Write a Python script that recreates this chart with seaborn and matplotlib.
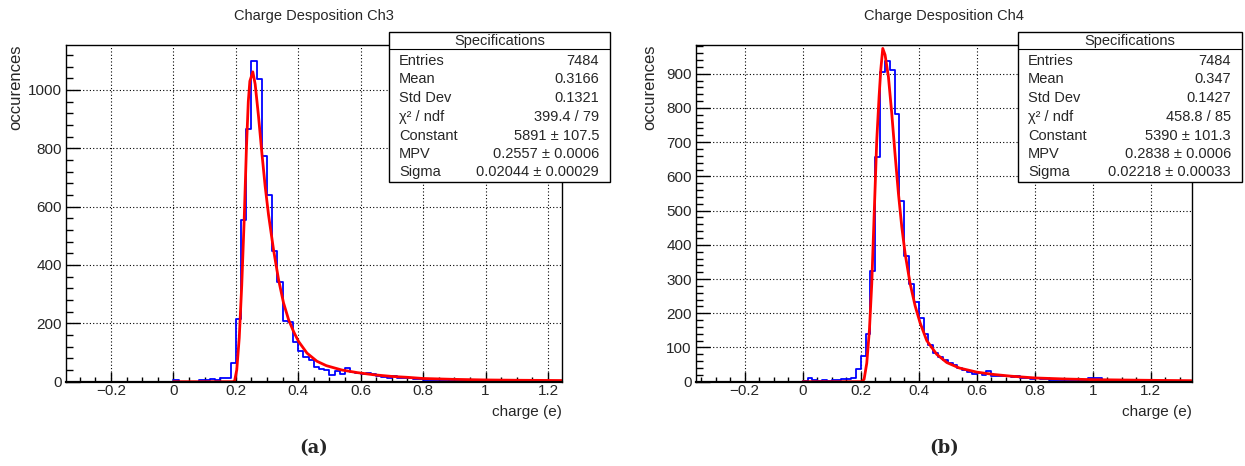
import numpy as np
import pandas as pd
import matplotlib
matplotlib.use("Agg")
import matplotlib.pyplot as plt
import seaborn as sns
from matplotlib.ticker import MultipleLocator, FuncFormatter
from matplotlib.patches import Rectangle

# histogram bins start at 0, width 1/60 e
bin_width = 1 / 60

ch3_counts = [5, 0, 0, 0, 0, 5, 5, 8, 6, 11, 11,
              65, 215, 554, 865, 1098, 1039, 774, 639, 449, 342, 208, 203, 137,
              104, 83, 73, 50, 43, 39, 24, 35, 27, 46, 32, 30, 27, 30, 26, 18, 16, 14, 20, 13,
              11, 11, 9, 9, 7,
              7, 6, 5, 5, 4, 4, 3, 4, 3, 2, 3, 2, 2, 3, 1, 2, 1, 2, 1, 1, 1, 0, 1, 1, 0, 1]
ch4_counts = [2, 10, 5, 3, 5, 3, 6, 5, 7, 8, 11,
              37, 75, 140, 323, 658, 906, 936, 910, 782, 527, 367, 286, 234,
              186, 140, 106, 84, 72, 62, 56, 50, 40, 34, 27, 23, 25, 20, 30, 18, 16, 18, 16, 13,
              16, 11, 10, 9, 12, 8, 8, 6,
              6, 5, 6, 4, 5, 4, 4, 12, 11, 10, 5, 4, 3, 3, 2, 3, 2, 2, 1, 2, 1, 1, 1, 1, 0, 1, 0, 1, 0]

# landau fit curves
ch3_fit_x = [0.0, 0.19, 0.196, 0.203, 0.211, 0.219, 0.227, 0.234, 0.240, 0.245, 0.2545,
             0.262, 0.2727, 0.2834, 0.294, 0.3048, 0.3209, 0.3369, 0.3529, 0.369, 0.385,
             0.401, 0.428, 0.46, 0.49, 0.54, 0.59, 0.64, 0.70, 0.75, 0.80, 0.90, 1.0, 1.1, 1.245]
ch3_fit_y = [0, 0, 2, 40, 150, 330, 560, 800, 960, 1030, 1062,
             1020, 910, 785, 670, 572, 452, 350, 270, 213, 172,
             138, 98, 70, 55, 40, 31, 24, 18, 15, 11, 8, 6, 5, 4]

ch4_fit_x = [0.0, 0.203, 0.2115, 0.2207, 0.2299, 0.238, 0.246, 0.2552, 0.2632, 0.269, 0.2759,
             0.2839, 0.2954, 0.3069, 0.318, 0.3299, 0.3414, 0.3529, 0.3701, 0.3874, 0.4046,
             0.4276, 0.462, 0.4966, 0.54, 0.6, 0.66, 0.72, 0.8, 0.9, 1.0, 1.1, 1.2, 1.34]
ch4_fit_y = [0, 0, 7, 54, 151, 287, 482, 706, 833, 911, 974,
             955, 891, 784, 667, 550, 453, 375, 287, 222, 172,
             120, 80, 56, 40, 28, 21, 16, 11, 8, 6, 5, 4, 3]

stat_labels = ["Entries", "Mean", "Std Dev", "χ² / ndf", "Constant", "MPV", "Sigma"]
ch3_stat_values = ["7484", "0.3166", "0.1321", "399.4 / 79", "5891 ± 107.5",
                   "0.2557 ± 0.0006", "0.02044 ± 0.00029"]
ch4_stat_values = ["7484", "0.347", "0.1427", "458.8 / 85", "5390 ± 101.3",
                   "0.2838 ± 0.0006", "0.02218 ± 0.00033"]

titles = ["Charge Desposition Ch3", "Charge Desposition Ch4"]
captions = ["(a)", "(b)"]

sns.set_style("white")
plt.rcParams['font.family'] = ['Liberation Sans', 'DejaVu Sans']

W, H = 1245, 466
fig = plt.figure(figsize=(W / 100, H / 100), dpi=100)


def px(x0, y0, x1, y1):
    return [x0 / W, 1 - y1 / H, (x1 - x0) / W, (y1 - y0) / H]


fmt = FuncFormatter(lambda v, p: ("%g" % round(v, 3)).replace("-", "\u2212"))

panels = [
    dict(counts=ch3_counts, fx=ch3_fit_x, fy=ch3_fit_y, vals=ch3_stat_values,
         box=px(66, 45, 562, 381.7), xlim=(-0.344, 1.245), ylim=(0, 1154),
         ymaj=200, ymin=40, stat=(389, 31.7, 610, 181.7), ylab_x=16),
    dict(counts=ch4_counts, fx=ch4_fit_x, fy=ch4_fit_y, vals=ch4_stat_values,
         box=px(696, 45, 1191.7, 381.7), xlim=(-0.368, 1.341), ylim=(0, 984),
         ymaj=100, ymin=20, stat=(1018, 31.7, 1242, 181.7), ylab_x=650),
]

for i, p in enumerate(panels):
    ax = fig.add_axes(p["box"])
    nbins = len(p["counts"])
    centers = (np.arange(nbins) + 0.5) * bin_width
    df = pd.DataFrame({"charge": centers, "n": p["counts"]})
    sns.histplot(data=df, x="charge", weights="n", binwidth=bin_width,
                 binrange=(0, nbins * bin_width), element="step",
                 fill=False, color="blue", linewidth=1.3, ax=ax)
    fit = pd.DataFrame({"x": p["fx"], "y": p["fy"]})
    sns.lineplot(data=fit, x="x", y="y", color="red", linewidth=2,
                 estimator=None, sort=False, ax=ax)

    ax.set_xlim(*p["xlim"])
    ax.set_ylim(*p["ylim"])
    ax.xaxis.set_major_locator(MultipleLocator(0.2))
    ax.xaxis.set_minor_locator(MultipleLocator(0.05))
    ax.yaxis.set_major_locator(MultipleLocator(p["ymaj"]))
    ax.yaxis.set_minor_locator(MultipleLocator(p["ymin"]))
    ax.xaxis.set_major_formatter(fmt)
    ax.tick_params(axis="both", which="both", direction="in", top=False, right=False,
                   bottom=True, left=True, labelsize=11, width=1, color="black")
    ax.tick_params(axis="x", which="major", length=7.2, pad=2)
    ax.tick_params(axis="x", which="minor", length=3.6)
    ax.tick_params(axis="y", which="major", length=10, pad=3)
    ax.tick_params(axis="y", which="minor", length=5)
    ax.grid(True, which="major", color="black", linestyle=(0, (1, 2)), linewidth=0.8)
    for s in ax.spines.values():
        s.set_color("black")
        s.set_linewidth(1)
    ax.spines["bottom"].set_linewidth(1.6)
    ax.set_xlabel("")
    ax.set_ylabel("")
    ax.set_title(titles[i], fontsize=10.5, pad=18)

    x0, y0, x1, y1 = p["box"][0], p["box"][1], p["box"][0] + p["box"][2], p["box"][1] + p["box"][3]
    fig.text(x1, 1 - 412 / H, "charge (e)", ha="right", va="center", fontsize=11)
    fig.text(p["ylab_x"] / W, y1, "occurences", rotation=90, ha="center", va="top", fontsize=12)
    fig.text((x0 + x1) / 2, 1 - 448 / H, captions[i], ha="center", va="center",
             fontsize=13, fontweight="bold", family="DejaVu Serif")

    # stats box
    sx0, sy0, sx1, sy1 = p["stat"]
    fig.patches.append(Rectangle((sx0 / W, 1 - sy1 / H), (sx1 - sx0) / W, (sy1 - sy0) / H,
                                 transform=fig.transFigure, facecolor="white",
                                 edgecolor="black", linewidth=1, zorder=5))
    fig.add_artist(plt.Line2D([sx0 / W, sx1 / W], [1 - 49.3 / H, 1 - 49.3 / H],
                              transform=fig.transFigure, color="black", linewidth=0.8, zorder=6))
    fig.text((sx0 + sx1) / 2 / W, 1 - 40.5 / H, "Specifications", ha="center", va="center",
             fontsize=10.5, zorder=7)
    row_y = [61, 79, 98.5, 116.7, 135.5, 154.3, 171.7]
    for lab, val, ry in zip(stat_labels, p["vals"], row_y):
        fig.text((sx0 + 10) / W, 1 - ry / H, lab, ha="left", va="center", fontsize=10.5, zorder=7)
        fig.text((sx1 - 11) / W, 1 - ry / H, val, ha="right", va="center", fontsize=10.5, zorder=7)

fig.savefig("out.png", dpi=100)
